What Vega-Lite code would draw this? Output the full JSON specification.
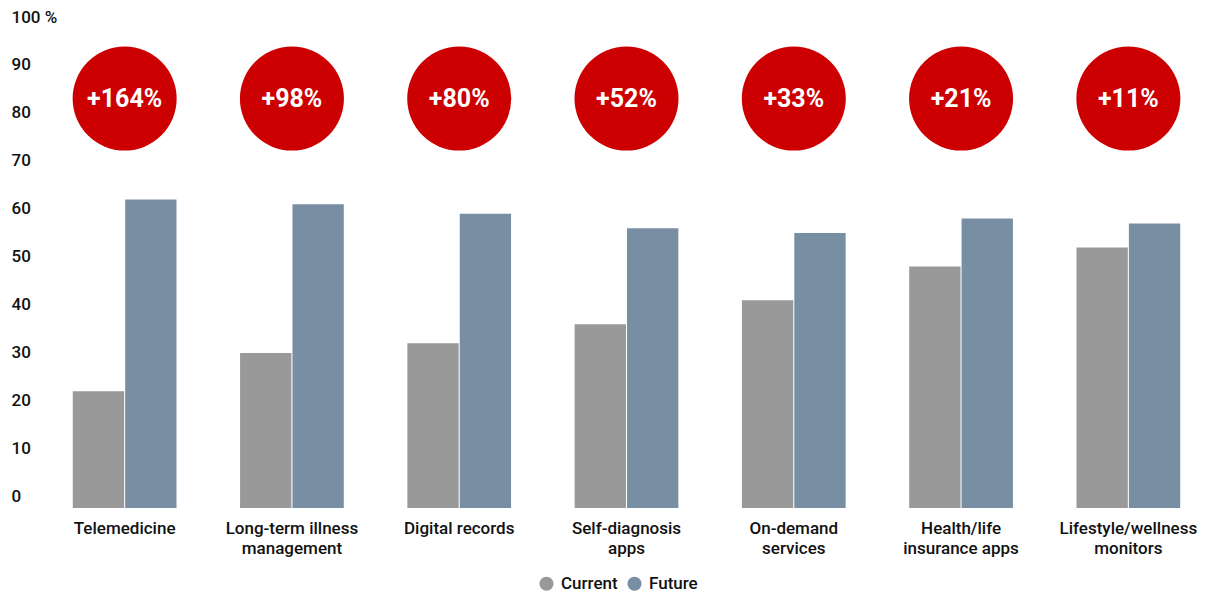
{
  "$schema": "https://vega.github.io/schema/vega-lite/v6.json",
  "width": 1171,
  "height": 491,
  "autosize": {"type": "none"},
  "padding": {"left": 41, "top": 17, "right": 0, "bottom": 84},
  "config": {"view": {"stroke": null}, "font": "Roboto"},
  "datasets": {
    "bars": [
      {"category": "Telemedicine", "series": "Current", "value": 22},
      {"category": "Telemedicine", "series": "Future", "value": 62},
      {"category": "Long-term illness management", "series": "Current", "value": 30},
      {"category": "Long-term illness management", "series": "Future", "value": 61},
      {"category": "Digital records", "series": "Current", "value": 32},
      {"category": "Digital records", "series": "Future", "value": 59},
      {"category": "Self-diagnosis apps", "series": "Current", "value": 36},
      {"category": "Self-diagnosis apps", "series": "Future", "value": 56},
      {"category": "On-demand services", "series": "Current", "value": 41},
      {"category": "On-demand services", "series": "Future", "value": 55},
      {"category": "Health/life insurance apps", "series": "Current", "value": 48},
      {"category": "Health/life insurance apps", "series": "Future", "value": 58},
      {"category": "Lifestyle/wellness monitors", "series": "Current", "value": 52},
      {"category": "Lifestyle/wellness monitors", "series": "Future", "value": 57}
    ],
    "growth": [
      {"category": "Telemedicine", "growth": "+164%"},
      {"category": "Long-term illness management", "growth": "+98%"},
      {"category": "Digital records", "growth": "+80%"},
      {"category": "Self-diagnosis apps", "growth": "+52%"},
      {"category": "On-demand services", "growth": "+33%"},
      {"category": "Health/life insurance apps", "growth": "+21%"},
      {"category": "Lifestyle/wellness monitors", "growth": "+11%"}
    ]
  },
  "encoding": {
    "x": {
      "field": "category",
      "type": "nominal",
      "sort": ["Telemedicine", "Long-term illness management", "Digital records", "Self-diagnosis apps", "On-demand services", "Health/life insurance apps", "Lifestyle/wellness monitors"],
      "scale": {"paddingInner": 0.38, "paddingOuter": 0.19},
      "axis": {
        "title": null,
        "domain": false,
        "ticks": false,
        "tickSize": 0,
        "labelAngle": 0,
        "labelPadding": 12,
        "labelBaseline": "top",
        "labelFontSize": 17,
        "labelFontWeight": 500,
        "labelColor": "#111111",
        "labelLineHeight": 20,
        "labelLimit": 300,
        "labelExpr": "{'Long-term illness management':['Long-term illness','management'],'Self-diagnosis apps':['Self-diagnosis','apps'],'On-demand services':['On-demand','services'],'Health/life insurance apps':['Health/life','insurance apps'],'Lifestyle/wellness monitors':['Lifestyle/wellness','monitors']}[datum.label] || datum.label"
      }
    }
  },
  "layer": [
    {
      "data": {"name": "bars"},
      "mark": {"type": "bar"},
      "encoding": {
        "xOffset": {"field": "series", "type": "nominal", "sort": ["Current", "Future"], "scale": {"paddingInner": 0.02}},
        "y": {
          "field": "value",
          "type": "quantitative",
          "scale": {"domain": [-2.3, 100], "nice": false, "zero": false},
          "axis": {
            "title": null,
            "values": [0, 10, 20, 30, 40, 50, 60, 70, 80, 90, 100],
            "domain": false,
            "ticks": false,
            "tickSize": 0,
            "grid": false,
            "labelAlign": "left",
            "labelBaseline": "middle",
            "labelPadding": 30,
            "labelFontSize": 17,
            "labelFontWeight": 500,
            "labelColor": "#111111",
            "labelExpr": "datum.value == 100 ? '100 %' : datum.label"
          }
        },
        "y2": {"datum": -2.3},
        "color": {
          "field": "series",
          "type": "nominal",
          "sort": ["Current", "Future"],
          "scale": {"domain": ["Current", "Future"], "range": ["#999999", "#788ea2"]},
          "legend": {
            "title": null,
            "orient": "none",
            "legendX": 497,
            "legendY": 558,
            "direction": "horizontal",
            "symbolType": "circle",
            "symbolSize": 200,
            "symbolOpacity": 1,
            "labelFontSize": 17,
            "labelFontWeight": 500,
            "labelColor": "#111111",
            "columnPadding": 8,
            "labelOffset": 6
          }
        }
      }
    },
    {
      "data": {"name": "growth"},
      "mark": {"type": "point", "shape": "circle", "filled": true, "size": 10816, "color": "#cc0000", "opacity": 1},
      "encoding": {"y": {"datum": 83}}
    },
    {
      "data": {"name": "growth"},
      "mark": {"type": "text", "color": "white", "fontSize": 25, "fontWeight": "bold", "baseline": "middle"},
      "encoding": {"y": {"datum": 83}, "text": {"field": "growth"}}
    }
  ]
}
